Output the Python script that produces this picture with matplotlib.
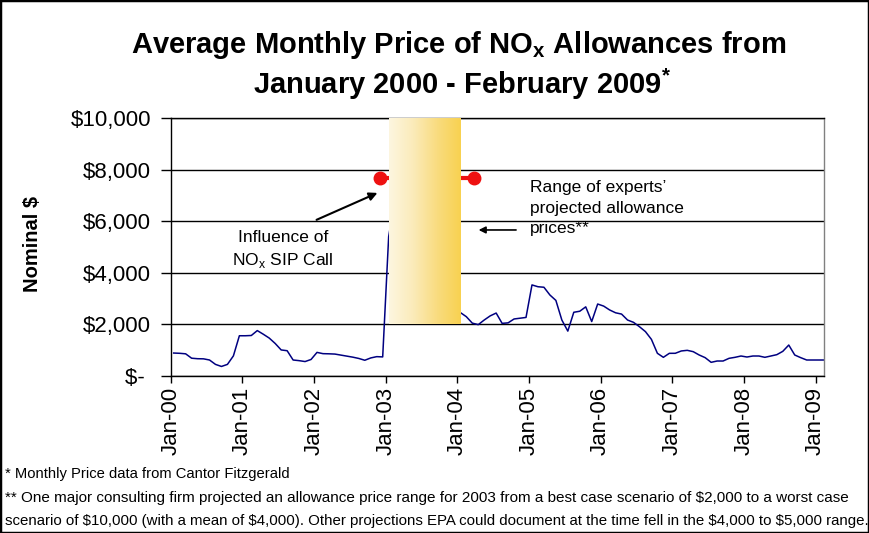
import numpy as np
import pandas as pd
import matplotlib
matplotlib.use("Agg")
import matplotlib.pyplot as plt
from matplotlib.colors import LinearSegmentedColormap
from matplotlib.patches import Rectangle
from matplotlib.ticker import FuncFormatter, FixedLocator

# ---------------- data ----------------
months = pd.date_range("2000-01-01", "2009-02-01", freq="MS")
price_2000 = [890, 880, 860, 690, 670, 665, 620, 450, 370, 450, 780, 1560]
price_2001 = [1560, 1570, 1760, 1620, 1470, 1260, 1010, 980, 620, 595, 560, 640]
price_2002 = [915, 866, 860, 850, 810, 770, 730, 680, 610, 700, 750, 740]
price_2003 = [5400, 6800, 7000, 7500, 7300, 6000, 5000, 4300, 3800, 3400, 3000, 2700]
price_2004 = [2460, 2300, 2050, 1990, 2170, 2330, 2440, 2040, 2060, 2210, 2240, 2270]
price_2005 = [3530, 3460, 3440, 3140, 2930, 2170, 1740, 2470, 2510, 2680, 2110, 2790]
price_2006 = [2710, 2560, 2450, 2400, 2170, 2080, 1910, 1720, 1420, 880, 724, 879]
price_2007 = [880, 970, 995, 943, 814, 711, 530, 581, 581, 685, 724, 775]
price_2008 = [736, 775, 775, 724, 775, 827, 956, 1200, 814, 711, 620, 620]
price_2009 = [620, 620]
prices = (price_2000 + price_2001 + price_2002 + price_2003 + price_2004 +
          price_2005 + price_2006 + price_2007 + price_2008 + price_2009)

tick_labels = ["Jan-00", "Jan-01", "Jan-02", "Jan-03", "Jan-04",
               "Jan-05", "Jan-06", "Jan-07", "Jan-08", "Jan-09"]
y_ticks = [0, 2000, 4000, 6000, 8000, 10000]

# consultant projection for 2003 (best case / worst case)
proj_low, proj_high = 2000, 10000
proj_year = 2003
# experts' projected price marker
expert_price = 7660

# ---------------- figure ----------------
W, H = 869, 533
fig = plt.figure(figsize=(W / 100, H / 100), dpi=100)
plt.rcParams["font.family"] = ["Liberation Sans", "DejaVu Sans"]

ax_l, ax_r, ax_t, ax_b = 170.7, 824, 118, 376
ax = fig.add_axes([ax_l / W, 1 - ax_b / H, (ax_r - ax_l) / W, (ax_b - ax_t) / H])

# month index (mid-month positions)
idx = np.arange(len(months))
x = idx + 0.5
ax.plot(x, prices, color="#000080", lw=1.1, zorder=2)

# red dumbbell (experts' projected range) behind the box
start_i = (proj_year - 2000) * 12
ax.plot([start_i - 1 + 0.05, start_i + 14.8], [expert_price, expert_price],
        color="#EE1111", lw=3, marker="o", ms=9, zorder=2.5, solid_capstyle="butt")

# gradient box
cmap = LinearSegmentedColormap.from_list("g", ["#FDF6E0", "#FBEBBA", "#F9DC80", "#F8D150"])
grad = np.linspace(0, 1, 256).reshape(1, -1)
ax.imshow(grad, cmap=cmap, aspect="auto", interpolation="bilinear",
          extent=(start_i + 0.5, start_i + 12.4, proj_low, proj_high), zorder=3)

ax.set_xlim(0, 109.4)
ax.set_ylim(0, 10000)

# grid & spines
ax.yaxis.set_major_locator(FixedLocator(y_ticks))
ax.yaxis.grid(True, color="black", lw=1)
ax.set_axisbelow(True)
for s in ["left", "bottom", "top"]:
    ax.spines[s].set_color("black")
    ax.spines[s].set_linewidth(1)
ax.spines["right"].set_color("#808080")
ax.spines["right"].set_linewidth(1)

ax.yaxis.set_major_formatter(FuncFormatter(lambda v, p: "$- " if v == 0 else f"${v:,.0f}"))
ax.tick_params(axis="y", direction="out", length=7, width=1, pad=7, labelsize=16)
ax.xaxis.set_major_locator(FixedLocator(np.arange(0, 109, 12)))
ax.set_xticklabels(tick_labels, rotation=90, fontsize=16)
ax.tick_params(axis="x", direction="out", length=5, width=1, pad=3)

# annotations
ax.annotate("", xy=(35.05, 7140), xytext=(24.0, 6010),
            arrowprops=dict(arrowstyle="-|>", color="black", lw=1.5, mutation_scale=12), zorder=4)
ax.text(18.8, 4880, "Influence of\nNO$_\\mathregular{x}$ SIP Call", ha="center", va="center",
        fontsize=12.5, linespacing=1.45, zorder=4)
ax.annotate("", xy=(51.1, 5660), xytext=(58.3, 5660),
            arrowprops=dict(arrowstyle="-|>", color="black", lw=1.2, mutation_scale=10), zorder=4)
ax.text(60.2, 6510, "Range of experts\u2019\nprojected allowance\nprices**", ha="left", va="center",
        fontsize=12.5, linespacing=1.45, zorder=4)

# titles
fig.text(459 / W, 1 - 45 / H, "Average Monthly Price of NO$_\\mathregular{x}$ Allowances from",
         ha="center", va="center", fontsize=21, fontweight="bold")
fig.text(462 / W, 1 - 84 / H, "January 2000 - February 2009$^\\mathregular{*}$",
         ha="center", va="center", fontsize=21, fontweight="bold")
fig.text(32 / W, 1 - 244 / H, "Nominal $", rotation=90, ha="center", va="center",
         fontsize=14.5, fontweight="bold", parse_math=False)

# footnotes (fitted to the reference widths)
foot = [
    (474, 287, "* Monthly Price data from Cantor Fitzgerald"),
    (498, 845, "** One major consulting firm projected an allowance price range for 2003 from a best case scenario of $2,000 to a worst case"),
    (521, 862, "scenario of $10,000 (with a mean of $4,000). Other projections EPA could document at the time fell in the $4,000 to $5,000 range."),
]
renderer = fig.canvas.get_renderer()
for yy, right_px, t in foot:
    txt = fig.text(5 / W, 1 - yy / H, t, ha="left", va="center", fontsize=11,
                   parse_math=False)
    w = txt.get_window_extent(renderer).width
    txt.set_fontsize(11 * (right_px - 5) / w)

fig.patches.append(Rectangle((0, 0), 1, 1, transform=fig.transFigure, fill=False,
                             ec="black", lw=2.5))

fig.savefig("out.png", dpi=100)
